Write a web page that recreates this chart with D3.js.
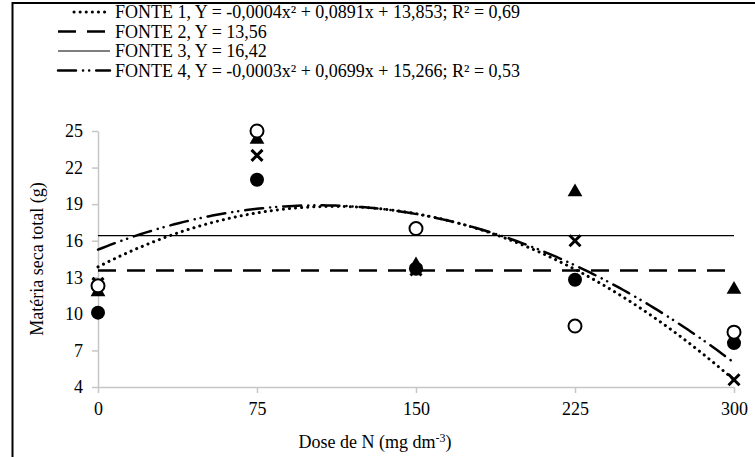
<!DOCTYPE html>
<html>
<head>
<meta charset="utf-8">
<script src="https://cdn.jsdelivr.net/npm/d3@7"></script>
<style>
  body { margin: 0; background: #fff; }
  svg text { font-family: "Times New Roman", "Liberation Serif", "DejaVu Serif", serif; fill: #000; }
</style>
</head>
<body>
<div id="chart"></div>
<script>
// chart size
const width = 755,
    height = 457;
const margin = { top: 131, right: 21, bottom: 70, left: 98 };
const serif = '"Times New Roman", "Liberation Serif", serif';

// doses of N (x) and the four sources
const doses = [0, 75, 150, 225, 300];
const fonte1 = [12.5, 23.0, 13.6, 16.0, 4.6];   // x marks
const fonte2 = [10.1, 21.0, 13.7, 12.8, 7.6];   // filled circles
const fonte3 = [11.8, 24.3, 14.0, 20.0, 12.0];  // triangles
const fonte4 = [12.3, 25.0, 17.0, 9.0, 8.5];    // open circles

// fitted models
const fit1 = [-0.0004, 0.0891, 13.853];
const fit4 = [-0.000336, 0.0699, 15.266];
const mean2 = 13.56;
const mean3 = 16.42;

const yTicks = [4, 7, 10, 13, 16, 19, 22, 25];
const legendLabels = [
    "FONTE 1, Y = -0,0004x² + 0,0891x + 13,853; R² = 0,69",
    "FONTE 2, Y = 13,56",
    "FONTE 3, Y = 16,42",
    "FONTE 4, Y = -0,0003x² + 0,0699x + 15,266; R² = 0,53"
];

const svg = d3.select("#chart")
    .append("svg")
    .attr("width", width)
    .attr("height", height);

// outer frame (goes off the right and bottom edge in the original)
svg.append("rect")
    .attr("x", 12.5)
    .attr("y", 3)
    .attr("width", 800)
    .attr("height", 500)
    .attr("fill", "none")
    .attr("stroke", "#000")
    .attr("stroke-width", 2);

const x = d3.scaleLinear()
    .domain([0, 300])
    .range([margin.left, width - margin.right]);

const y = d3.scaleLinear()
    .domain([4, 25])
    .range([height - margin.bottom, margin.top]);

// axes
const xAxis = svg.append("g")
    .attr("transform", `translate(0, ${y(4)})`)
    .call(d3.axisBottom(x).tickValues(doses).tickSize(6).tickSizeOuter(0).tickPadding(9));

const yAxis = svg.append("g")
    .attr("transform", `translate(${x(0)}, 0)`)
    .call(d3.axisLeft(y).tickValues(yTicks).tickSize(6).tickSizeOuter(0).tickPadding(9));

[xAxis, yAxis].forEach(g => {
    g.attr("font-family", serif);
    g.select(".domain").attr("stroke", "#c6c6c6").attr("stroke-width", 1.5);
    g.selectAll(".tick line").attr("stroke", "#c6c6c6").attr("stroke-width", 1.5);
    g.selectAll(".tick text")
        .style("font-family", serif)
        .style("font-size", "18px")
        .attr("fill", "#000");
});

// axis titles
const xTitle = svg.append("text")
    .attr("x", 375)
    .attr("y", 448)
    .attr("text-anchor", "middle")
    .style("font-size", "18px")
    .text("Dose de N (mg dm");
xTitle.append("tspan")
    .attr("dy", -6)
    .style("font-size", "12px")
    .text("-3");
xTitle.append("tspan")
    .attr("dy", 6)
    .text(")");

svg.append("text")
    .attr("transform", `translate(43, ${(y(4) + y(25)) / 2}) rotate(-90)`)
    .attr("text-anchor", "middle")
    .style("font-size", "18px")
    .text("Matéria seca total (g)");

// trend lines
const curve = c => d3.range(0, 301, 2).map(d => [d, c[0] * d * d + c[1] * d + c[2]]);
const line = d3.line().x(d => x(d[0])).y(d => y(d[1]));

const trendStyles = [
    { data: curve(fit1), dash: "0.1,6", width: 3, cap: "round" },
    { data: [[0, mean2], [300, mean2]], dash: "18,11", width: 2.5, cap: "butt" },
    { data: [[0, mean3], [300, mean3]], dash: null, width: 1.2, cap: "butt" },
    { data: curve(fit4), dash: "18,7,0.1,6,0.1,7", width: 2.5, cap: "round" }
];

trendStyles.forEach(s => {
    svg.append("path")
        .datum(s.data)
        .attr("d", line)
        .attr("fill", "none")
        .attr("stroke", "#000")
        .attr("stroke-width", s.width)
        .attr("stroke-linecap", s.cap)
        .attr("stroke-dasharray", s.dash);
});

// markers
svg.append("g").selectAll("circle")
    .data(doses.map((d, i) => [d, fonte2[i]]))
    .join("circle")
    .attr("cx", d => x(d[0]))
    .attr("cy", d => y(d[1]))
    .attr("r", 7)
    .attr("fill", "#000");

const xSize = 5.5;
svg.append("g").selectAll("path")
    .data(doses.map((d, i) => [d, fonte1[i]]))
    .join("path")
    .attr("d", d => {
        const cx = x(d[0]), cy = y(d[1]);
        return `M${cx - xSize},${cy - xSize}L${cx + xSize},${cy + xSize}M${cx - xSize},${cy + xSize}L${cx + xSize},${cy - xSize}`;
    })
    .attr("stroke", "#000")
    .attr("stroke-width", 3);

const tri = d3.symbol().type(d3.symbolTriangle).size(95);
svg.append("g").selectAll("path")
    .data(doses.map((d, i) => [d, fonte3[i]]))
    .join("path")
    .attr("d", tri)
    .attr("transform", d => `translate(${x(d[0])}, ${y(d[1])})`)
    .attr("fill", "#000");

svg.append("g").selectAll("circle")
    .data(doses.map((d, i) => [d, fonte4[i]]))
    .join("circle")
    .attr("cx", d => x(d[0]))
    .attr("cy", d => y(d[1]))
    .attr("r", 6.5)
    .attr("fill", "#fff")
    .attr("stroke", "#000")
    .attr("stroke-width", 2);

// legend
const legend = svg.append("g");
const rowH = 19.5;
trendStyles.forEach((s, i) => {
    const ly = 12 + i * rowH;
    legend.append("line")
        .attr("x1", i === 0 ? 74 : 58)
        .attr("x2", 110)
        .attr("y1", ly)
        .attr("y2", ly)
        .attr("stroke", "#000")
        .attr("stroke-width", s.width)
        .attr("stroke-linecap", s.cap)
        .attr("stroke-dasharray", s.dash);
    legend.append("text")
        .attr("x", 115)
        .attr("y", ly + 6)
        .style("font-size", "18px")
        .text(legendLabels[i]);
});
</script>
</body>
</html>
